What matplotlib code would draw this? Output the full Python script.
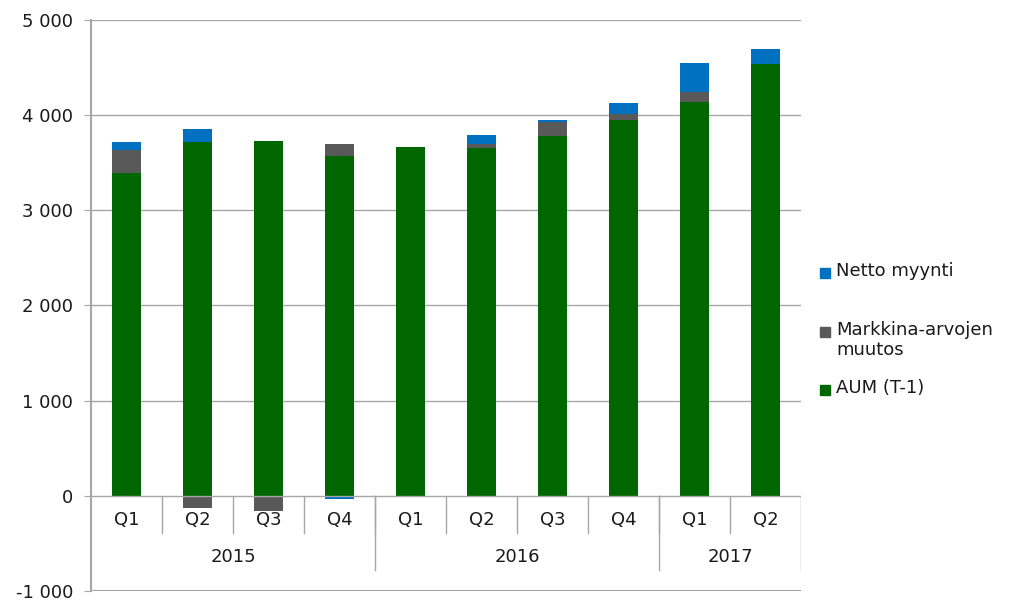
import matplotlib.pyplot as plt
import numpy as np
from matplotlib.patches import Rectangle

# data
quarters = ['Q1', 'Q2', 'Q3', 'Q4', 'Q1', 'Q2', 'Q3', 'Q4', 'Q1', 'Q2']
years = ['2015', '2016', '2017']
year_counts = [4, 4, 2]
aum = [3390, 3720, 3730, 3575, 3665, 3660, 3785, 3945, 4135, 4540]
market = [240, -125, -160, 120, 0, 40, 145, 70, 105, 0]
net = [90, 130, 0, -35, 0, 90, 15, 115, 305, 160]

series = [('AUM (T-1)', aum, '#006600'),
          ('Markkina-arvojen\nmuutos', market, '#595959'),
          ('Netto myynti', net, '#0070C0')]

plt.rcParams['font.family'] = ['DejaVu Sans']
plt.rcParams['font.size'] = 13
txt_col = '#1a1a1a'
grid_col = '#a6a6a6'

fig = plt.figure(figsize=(10.24, 6.13), dpi=100)
ax = fig.add_axes([91 / 1024, 1 - 591 / 613, 710 / 1024, 571 / 613])

x = np.arange(len(quarters))
pos_bottom = np.zeros(len(x))
neg_bottom = np.zeros(len(x))
for name, vals, col in series:
    v = np.array(vals, dtype=float)
    bottom = np.where(v >= 0, pos_bottom, neg_bottom)
    ax.bar(x, v, 0.4, bottom=bottom, color=col, zorder=3)
    pos_bottom += np.where(v > 0, v, 0)
    neg_bottom += np.where(v < 0, v, 0)

ax.set_xlim(-0.5, len(x) - 0.5)
ax.set_ylim(-1000, 5000)
ax.set_yticks(range(-1000, 5001, 1000))
ax.set_yticklabels([f'{t:,}'.replace(',', ' ') for t in range(-1000, 5001, 1000)])
ax.tick_params(axis='y', length=5, color=grid_col, labelcolor=txt_col, pad=8)
ax.set_xticks([])
for t in range(1000, 5001, 1000):
    ax.axhline(t, color=grid_col, lw=1, zorder=1)
ax.axhline(-1000, color=grid_col, lw=1.5, zorder=1)
ax.axhline(0, color=grid_col, lw=1, zorder=4)

for s in ['top', 'right', 'bottom']:
    ax.spines[s].set_visible(False)
ax.spines['left'].set_color(grid_col)
ax.spines['left'].set_linewidth(1.5)

# category axis drawn inside the plot below zero
for i, q in enumerate(quarters):
    ax.text(i, -250, q, ha='center', va='center', color=txt_col, fontsize=13)
for i in range(1, len(quarters)):
    ax.plot([i - 0.5, i - 0.5], [0, -390], color=grid_col, lw=1, zorder=2)
start = 0
for y, n in zip(years, year_counts):
    ax.text(start + n / 2 - 0.5, -640, y, ha='center', va='center', color=txt_col, fontsize=13)
    start += n
    ax.plot([start - 0.5, start - 0.5], [0, -780], color=grid_col, lw=1, zorder=2)

# legend, handles aligned with first line of each label
leg_y = [273, 332, 390]
for (name, vals, col), yy in zip(series[::-1], leg_y):
    fig.add_artist(Rectangle((820 / 1024, 1 - (yy + 5) / 613), 10 / 1024, 10 / 613,
                             transform=fig.transFigure, color=col))
    fig.text(836 / 1024, 1 - (yy - 11) / 613, name, va='top', ha='left',
             color=txt_col, fontsize=13, linespacing=1.15)

fig.savefig('out.png', dpi=100)
